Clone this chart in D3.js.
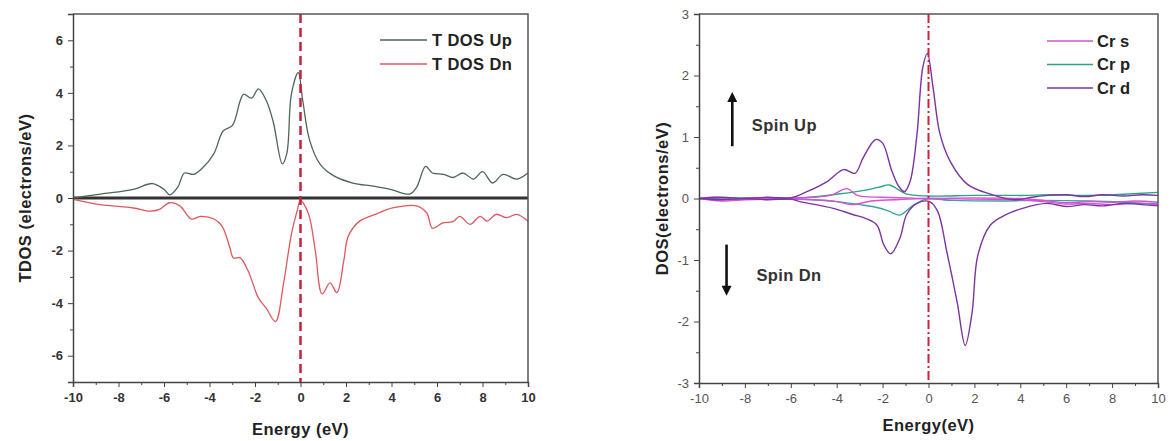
<!DOCTYPE html>
<html>
<head>
<meta charset="utf-8">
<script src="https://cdn.jsdelivr.net/npm/d3@7"></script>
<style>
  body { margin: 0; background: #fff; }
  svg { display: block; font-family: "Liberation Sans", Arial, sans-serif; }
</style>
</head>
<body>
<svg id="chart" width="1173" height="441"></svg>
<script>
// ---- data (energy in eV, DOS values) ----
var tdosUp = [[-10,0],[-8.8,0.15],[-7.35,0.33],[-6.5,0.55],[-6.0,0.33],[-5.75,0.12],[-5.4,0.4],[-5.1,0.95],[-4.7,0.9],
  [-4.3,1.15],[-3.8,1.7],[-3.4,2.55],[-3.0,2.75],[-2.65,3.7],[-2.5,3.95],[-2.15,3.8],[-1.85,4.15],[-1.5,3.7],[-1.2,2.9],
  [-0.8,1.3],[-0.6,1.7],[-0.4,3.95],[-0.1,4.77],[0.1,3.7],[0.4,2.2],[0.85,1.3],[1.45,0.85],[2.3,0.57],[3.2,0.45],
  [3.95,0.33],[4.8,0.15],[5.1,0.4],[5.5,1.2],[5.8,0.95],[6.3,0.9],[6.7,0.78],[7.15,0.95],[7.6,0.72],[8.0,1.0],
  [8.45,0.57],[8.9,0.9],[9.5,0.72],[10,0.95]];
var tdosDn = [[-10,-0.05],[-8.8,-0.25],[-7.35,-0.38],[-6.6,-0.5],[-6.2,-0.43],[-5.75,-0.18],[-5.3,-0.3],[-4.8,-0.8],
  [-4.4,-0.7],[-3.8,-0.8],[-3.45,-1.07],[-3.1,-1.9],[-2.95,-2.28],[-2.65,-2.28],[-2.3,-2.78],[-1.85,-3.8],[-1.5,-4.2],
  [-1.1,-4.7],[-0.75,-3.28],[-0.4,-1.37],[-0.15,-0.5],[0,-0.1],[0.35,-0.6],[0.65,-2.0],[0.95,-3.65],[1.3,-3.23],
  [1.6,-3.6],[1.9,-2.4],[2.1,-1.45],[2.6,-0.88],[3.35,-0.6],[4.05,-0.38],[5.1,-0.3],[5.55,-0.57],[5.8,-1.15],
  [6.25,-0.95],[6.7,-0.9],[7.0,-0.7],[7.45,-1.0],[7.9,-0.7],[8.2,-0.88],[8.6,-0.62],[9.05,-0.75],[9.5,-0.62],[10,-0.88]];

var crSUp = [[-10,0],[-9.2,0.02],[-8.6,-0.03],[-7.8,0.01],[-6.5,0],[-5,0.02],[-4.2,0.06],[-3.55,0.16],[-3.1,0.05],
  [-2,0.02],[-1,0.01],[0,0],[2,0.01],[4,0],[5,-0.03],[6,-0.07],[7,-0.05],[8,-0.06],[9,-0.04],[10,-0.06]];
var crSDn = [[-10,0],[-9,-0.04],[-8,-0.02],[-6.5,-0.01],[-5,-0.02],[-4,-0.05],[-3.3,-0.1],[-2.5,-0.04],[-1.5,-0.02],
  [0,0],[2,-0.01],[4,-0.02],[5,-0.05],[6,-0.09],[7,-0.08],[8,-0.1],[9,-0.08],[10,-0.1]];
var crPUp = [[-10,0],[-8,0.01],[-6,0.01],[-5.2,0.02],[-4,0.07],[-3,0.12],[-2.2,0.18],[-1.7,0.22],[-1.3,0.14],
  [-0.95,0.07],[0,0.04],[2,0.05],[4,0.05],[5.5,0.06],[7,0.05],[8.5,0.07],[10,0.1]];
var crPDn = [[-10,0],[-8,-0.01],[-6,-0.01],[-5,-0.02],[-4,-0.05],[-3,-0.1],[-2.2,-0.15],[-1.7,-0.21],[-1.25,-0.27],
  [-0.7,-0.12],[-0.1,-0.01],[1,-0.03],[3,-0.04],[5,-0.03],[7,-0.04],[8.5,-0.06],[10,-0.09]];
var crDUp = [[-10,0],[-9,0.02],[-8,0],[-7,0.02],[-6,0.01],[-5.3,0.11],[-4.4,0.28],[-3.7,0.47],[-3.2,0.41],[-2.85,0.66],
  [-2.3,0.96],[-2.0,0.9],[-1.6,0.45],[-1.3,0.2],[-1.05,0.11],[-0.8,0.28],[-0.5,1.05],[-0.25,2.13],[-0.05,2.36],[0.2,1.8],
  [0.5,1.05],[0.95,0.6],[1.7,0.23],[2.7,0.07],[3.7,-0.02],[4.5,0.02],[5.2,0.05],[6,0.06],[6.8,0.03],[7.6,0.06],
  [8.5,0.04],[9.3,0.06],[10,0.05]];
var crDDn = [[-10,0],[-9,-0.02],[-8,0],[-7,-0.02],[-6,-0.01],[-5.6,-0.05],[-4.15,-0.16],[-3.3,-0.26],[-2.7,-0.33],
  [-2.25,-0.43],[-1.95,-0.75],[-1.65,-0.9],[-1.25,-0.65],[-0.95,-0.26],[-0.5,-0.08],[0.05,-0.05],[0.4,-0.21],
  [0.8,-0.87],[1.25,-1.69],[1.6,-2.39],[1.9,-1.85],[2.15,-0.92],[2.7,-0.43],[3.4,-0.26],[4.1,-0.16],[5.15,-0.08],
  [6.0,-0.13],[6.8,-0.1],[7.6,-0.12],[8.5,-0.08],[9.3,-0.1],[10,-0.12]];

var leftLegend = ["T DOS Up", "T DOS Dn"];
var rightLegend = ["Cr s", "Cr p", "Cr d"];
var xTicks = d3.range(-10, 11, 2);
var leftYTicks = d3.range(-6, 7, 2);
var rightYTicks = d3.range(-3, 4, 1);

var cUp = "#4d6657", cDn = "#e0585c";
var cS = "#d452d4", cP = "#2ba487", cD = "#7c34a2";

var svg = d3.select("#chart");
var curve = d3.curveCatmullRom.alpha(0.5);
var fmt = function (d) { return String(d); }; // plain hyphen minus, as in the figure

function frame(g, x, y, opts) {
  var x0 = x.range()[0], x1 = x.range()[1], y0 = y.range()[0], y1 = y.range()[1];
  // top and right border
  g.append("path").attr("d", "M" + x0 + "," + y1 + "H" + x1 + "V" + y0)
    .attr("fill", "none").attr("stroke", "#555").attr("stroke-width", 1.5);

  var xMinor = d3.range(-9, 10, 2);
  g.append("g").attr("transform", "translate(0," + y0 + ")")
    .call(d3.axisBottom(x).tickValues(xMinor).tickSize(3).tickFormat(""))
    .call(function (a) { a.select(".domain").remove(); a.selectAll("line").attr("stroke", "#444"); });
  var ax = g.append("g").attr("transform", "translate(0," + y0 + ")")
    .call(d3.axisBottom(x).tickValues(xTicks).tickSize(5).tickPadding(6).tickFormat(fmt));
  var ay = g.append("g").attr("transform", "translate(" + x0 + ",0)")
    .call(d3.axisLeft(y).tickValues(opts.yTicks).tickSize(5).tickPadding(5).tickFormat(fmt));
  g.append("g").attr("transform", "translate(" + x0 + ",0)")
    .call(d3.axisLeft(y).tickValues(opts.yMinor).tickSize(3).tickFormat(""))
    .call(function (a) { a.select(".domain").remove(); a.selectAll("line").attr("stroke", "#444"); });
  [ax, ay].forEach(function (a) {
    a.select(".domain").attr("stroke", "#444").attr("stroke-width", 1.5);
    a.selectAll("line").attr("stroke", "#444");
    a.selectAll("text").attr("fill", opts.tickColor).attr("font-size", 13)
      .attr("font-weight", opts.tickWeight);
  });
}

function label(g, txt, x, y, rotate) {
  return g.append("text")
    .attr("transform", "translate(" + x + "," + y + ")" + (rotate ? " rotate(-90)" : ""))
    .attr("text-anchor", "middle").attr("font-weight", "bold").attr("font-size", 16.5)
    .attr("letter-spacing", 0.5).attr("fill", "#222").text(txt);
}

// ---------- left panel: total DOS ----------
var xL = d3.scaleLinear().domain([-10, 10]).range([73, 528]);
var yL = d3.scaleLinear().domain([-7, 7]).range([382, 14]);
var gL = svg.append("g");

gL.append("line").attr("x1", xL(-10)).attr("x2", xL(10)).attr("y1", yL(0)).attr("y2", yL(0))
  .attr("stroke", "#333").attr("stroke-width", 3);

var lineL = d3.line().x(function (d) { return xL(d[0]); }).y(function (d) { return yL(d[1]); }).curve(curve);
gL.append("path").datum(tdosUp).attr("d", lineL).attr("fill", "none").attr("stroke", cUp).attr("stroke-width", 1.3);
gL.append("path").datum(tdosDn).attr("d", lineL).attr("fill", "none").attr("stroke", cDn).attr("stroke-width", 1.3);

gL.append("line").attr("x1", xL(0)).attr("x2", xL(0)).attr("y1", yL(7)).attr("y2", yL(-7))
  .attr("stroke", "#c8203a").attr("stroke-width", 2.5).attr("stroke-dasharray", "9,5");

frame(gL, xL, yL, { yTicks: leftYTicks, yMinor: d3.range(-7, 8, 2), tickColor: "#333", tickWeight: "bold" });

label(gL, "TDOS (electrons/eV)", 31, yL(0), true);
label(gL, "Energy (eV)", xL(0), 435, false);

var legL = gL.selectAll(".legL").data(leftLegend).enter().append("g")
  .attr("transform", function (d, i) { return "translate(380," + (40 + i * 24) + ")"; });
legL.append("line").attr("x2", 47).attr("stroke", function (d, i) { return [cUp, cDn][i]; }).attr("stroke-width", 1.3);
legL.append("text").attr("x", 52).attr("dy", "0.36em").attr("font-weight", "bold").attr("font-size", 16.5)
  .attr("letter-spacing", 0.4).attr("fill", "#222").text(function (d) { return d; });

// ---------- right panel: Cr partial DOS ----------
var xR = d3.scaleLinear().domain([-10, 10]).range([699, 1158]);
var yR = d3.scaleLinear().domain([-3, 3]).range([383, 14]);
var gR = svg.append("g");
var lineR = d3.line().x(function (d) { return xR(d[0]); }).y(function (d) { return yR(d[1]); }).curve(curve);

var pdos = [[crPUp, cP], [crPDn, "#3aa3a0"], [crSUp, cS], [crSDn, cS], [crDUp, cD], [crDDn, cD]];
pdos.forEach(function (p) {
  gR.append("path").datum(p[0]).attr("d", lineR).attr("fill", "none").attr("stroke", p[1]).attr("stroke-width", 1.4);
});

gR.append("line").attr("x1", xR(0)).attr("x2", xR(0)).attr("y1", yR(3)).attr("y2", yR(-3))
  .attr("stroke", "#d0203a").attr("stroke-width", 2).attr("stroke-dasharray", "9,3,2,3");

frame(gR, xR, yR, { yTicks: rightYTicks, yMinor: d3.range(-2.5, 3, 1), tickColor: "#555", tickWeight: "normal" });

label(gR, "DOS(electrons/eV)", 668, yR(0), true);
label(gR, "Energy(eV)", xR(0), 431, false);

var legR = gR.selectAll(".legR").data(rightLegend).enter().append("g")
  .attr("transform", function (d, i) { return "translate(1047," + (41 + i * 23.5) + ")"; });
legR.append("line").attr("x2", 46).attr("stroke", function (d, i) { return [cS, cP, cD][i]; }).attr("stroke-width", 1.4);
legR.append("text").attr("x", 50).attr("dy", "0.36em").attr("font-weight", "bold").attr("font-size", 16.5)
  .attr("fill", "#222").text(function (d) { return d; });

// spin arrows
svg.append("defs").append("marker").attr("id", "arr").attr("viewBox", "0 0 10 10").attr("refX", 2).attr("refY", 5)
  .attr("markerUnits", "userSpaceOnUse").attr("markerWidth", 15).attr("markerHeight", 10)
  .attr("orient", "auto-start-reverse")
  .append("path").attr("d", "M0,0L10,5L0,10z").attr("fill", "#111");
var spin = [
  { label: "Spin Up", e: -8.55, from: 0.85, to: 1.6, tx: -7.7, ty: 1.2 },
  { label: "Spin Dn", e: -8.8, from: -0.75, to: -1.45, tx: -7.5, ty: -1.25 }
];
spin.forEach(function (s) {
  gR.append("line").attr("x1", xR(s.e)).attr("x2", xR(s.e)).attr("y1", yR(s.from)).attr("y2", yR(s.to))
    .attr("stroke", "#111").attr("stroke-width", 2.6).attr("marker-end", "url(#arr)");
  gR.append("text").attr("x", xR(s.tx)).attr("y", yR(s.ty)).attr("dy", "0.36em")
    .attr("font-weight", "bold").attr("font-size", 16.5).attr("letter-spacing", 0.4).attr("fill", "#333").text(s.label);
});
</script>
</body>
</html>
